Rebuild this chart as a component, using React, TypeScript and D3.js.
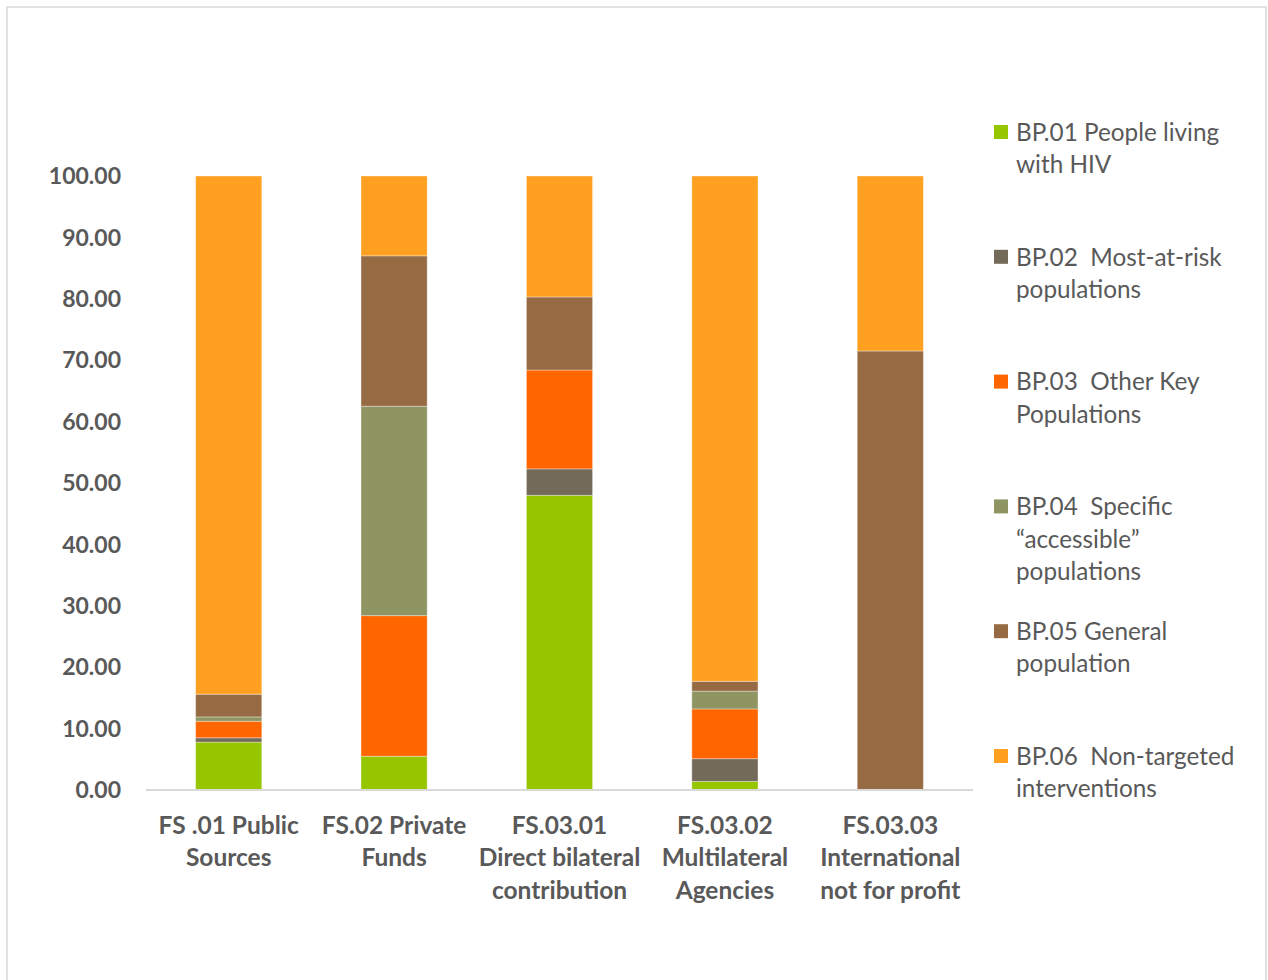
import React from "react";
import * as d3 from "d3";

const categories = [
  ["FS .01 Public", "Sources"],
  ["FS.02 Private", "Funds"],
  ["FS.03.01", "Direct bilateral", "contribution"],
  ["FS.03.02", "Multilateral", "Agencies"],
  ["FS.03.03", "International", "not for profit"],
];

const seriesNames = [
  ["BP.01 People living", "with HIV"],
  ["BP.02  Most-at-risk", "populations"],
  ["BP.03  Other Key", "Populations"],
  ["BP.04  Specific", "\u201caccessible\u201d", "populations"],
  ["BP.05 General", "population"],
  ["BP.06  Non-targeted", "interventions"],
];

const bp01 = [7.8, 5.5, 48.0, 1.4, 0];
const bp02 = [0.7, 0, 4.3, 3.7, 0];
const bp03 = [2.7, 22.9, 16.1, 8.1, 0];
const bp04 = [0.7, 34.1, 0, 2.9, 0];
const bp05 = [3.7, 24.5, 11.9, 1.6, 71.5];
const bp06 = [84.4, 13.0, 19.7, 82.3, 28.5];

const colors = ["#95C600", "#746A5A", "#FF6600", "#8F9463", "#966B43", "#FFA021"];

const yTicks = [0, 10, 20, 30, 40, 50, 60, 70, 80, 90, 100];

const W = 1268;
const H = 980;
const FONT = "Lato, 'Open Sans', sans-serif";
const TEXT = "#595959";

export default function App() {
  const series = [bp01, bp02, bp03, bp04, bp05, bp06];
  const keys = ["bp01", "bp02", "bp03", "bp04", "bp05", "bp06"];
  const rows = categories.map((c, i) => {
    const r: any = { idx: i };
    keys.forEach((k, j) => (r[k] = series[j][i]));
    return r;
  });
  const stacked = d3.stack().keys(keys)(rows);

  const x = d3
    .scaleBand<number>()
    .domain(categories.map((_, i) => i))
    .range([146, 973])
    .paddingInner(0.6)
    .paddingOuter(0.3);
  const y = d3.scaleLinear().domain([0, 100]).range([790, 176]);

  const legendTop = 132;
  const legendStep = 124.8;
  const lineH = 32.5;

  return (
    <svg
      width={W}
      height={H}
      style={{ position: "absolute", left: 0, top: 0, background: "#fff" }}
      fontFamily={FONT}
    >
      <rect x={7} y={7} width={1259} height={980} fill="#fff" stroke="#d9d9d9" strokeWidth={1.5} />
      {stacked.map((layer, j) => (
        <g key={j} fill={colors[j]}>
          {layer.map((d, i) => {
            const h = y(d[0]) - y(d[1]);
            if (h <= 0) return null;
            return (
              <rect
                key={i}
                x={x(i)}
                y={y(d[1])}
                width={x.bandwidth()}
                height={h}
                stroke="#ffffff"
                strokeOpacity={0.35}
                strokeWidth={1}
              />
            );
          })}
        </g>
      ))}
      <line x1={146} x2={973} y1={y(0)} y2={y(0)} stroke="#d9d9d9" strokeWidth={2} />
      {yTicks.map((t) => (
        <text
          key={t}
          x={121}
          y={y(t)}
          dy="0.36em"
          textAnchor="end"
          fontWeight="bold"
          fontSize={23}
          fill={TEXT}
        >
          {t.toFixed(2)}
        </text>
      ))}
      {categories.map((lines, i) => (
        <text
          key={i}
          textAnchor="middle"
          fontWeight="bold"
          fontSize={24.5}
          fill={TEXT}
        >
          {lines.map((l, k) => (
            <tspan key={k} x={(x(i) as number) + x.bandwidth() / 2} y={825 + k * lineH} dy="0.36em">
              {l}
            </tspan>
          ))}
        </text>
      ))}
      {seriesNames.map((lines, j) => {
        const cy = legendTop + j * legendStep;
        return (
          <g key={j}>
            <rect x={994} y={cy - 7} width={14} height={14} fill={colors[j]} />
            <text fontSize={24.3} fill={TEXT}>
              {lines.map((l, k) => (
                <tspan key={k} x={1016} y={cy + k * lineH} dy="0.36em" style={{ whiteSpace: "pre" }}>
                  {l}
                </tspan>
              ))}
            </text>
          </g>
        );
      })}
    </svg>
  );
}
